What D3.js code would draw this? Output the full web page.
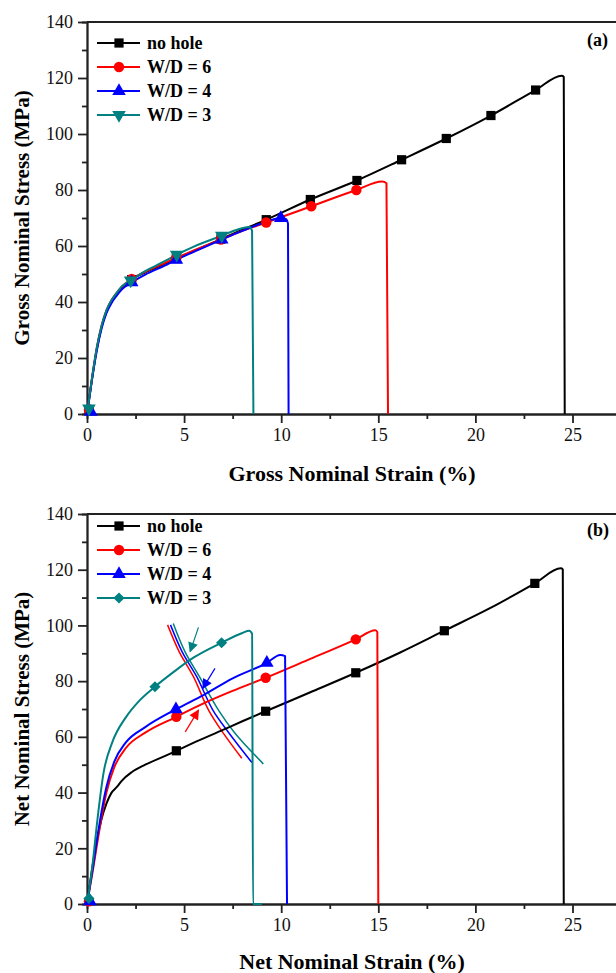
<!DOCTYPE html>
<html>
<head>
<meta charset="utf-8">
<script src="https://cdn.jsdelivr.net/npm/d3@7"></script>
<style>
  body { margin: 0; background: #fff; }
  svg { display: block; font-family: "Liberation Serif", "Times New Roman", serif; }
</style>
</head>
<body>
<div class="d3"></div>
<script>
// series
const seriesNames = ['no hole', 'W/D = 6', 'W/D = 4', 'W/D = 3'];
const seriesColors = ['#000000', '#ff0000', '#0000ff', '#008080'];

// ticks (axis runs on past 25, out of the picture)
const strainTicks = [0, 5, 10, 15, 20, 25];
const strainMinorTicks = [2.5, 7.5, 12.5, 17.5, 22.5];
const stressTicks = [0, 20, 40, 60, 80, 100, 120, 140];
const stressMinorTicks = [10, 30, 50, 70, 90, 110, 130];

// (a) gross nominal stress-strain, [strain %, stress MPa]
const grossNoHole = [[0,0],[0.25,12],[0.5,23],[0.75,31],[1,36.5],[1.25,40],[1.5,42.6],[1.8,45],[2.3,48],[3,50.6],[4,53.6],[4.6,55.5],[5.5,58.2],[7,62.8],[8,65.8],[9.23,69.4],[11.5,76.6],[13.9,83.4],[16.2,90.8],[18.5,98.4],[20.8,106.6],[23.1,115.7],[24.45,120.8],[24.55,120.4],[24.6,0]];
const grossW6 = [[0,0],[0.25,12.5],[0.5,23.5],[0.75,31.5],[1,37],[1.25,40.5],[1.5,43],[1.8,45.5],[2.3,48.2],[3,50.8],[4,53.9],[4.6,55.8],[5.5,58.4],[6.9,62.3],[8,65.4],[9.23,68.4],[11.55,74.2],[13.87,80],[15.2,83],[15.42,82.4],[15.5,0]];
const grossW4 = [[0,0],[0.25,12],[0.5,22.5],[0.75,30.5],[1,36],[1.25,39.5],[1.5,42],[1.8,44.5],[2.3,47],[3,49.8],[4,53],[4.6,55.1],[5.5,57.9],[6.94,62.3],[8,65.4],[9.2,68.6],[9.98,70],[10.25,69.6],[10.35,68],[10.38,0]];
const grossW3 = [[0,0],[0.25,12.5],[0.5,23.5],[0.75,31.5],[1,37],[1.25,40.5],[1.5,43],[1.8,45.6],[2.25,47.7],[3,51],[4,54.6],[4.62,56.9],[5.5,59.8],[6.94,63.7],[7.8,66],[8.35,66.8],[8.5,65.5],[8.57,0]];

const grossNoHoleMarks = [[0.1,1.5],[2.3,48],[4.6,55.5],[6.9,62.5],[9.23,69.4],[11.5,76.6],[13.9,83.4],[16.2,90.8],[18.5,98.4],[20.8,106.6],[23.1,115.7]];
const grossW6Marks = [[0.1,1.5],[2.3,48.2],[4.6,55.8],[6.9,62.3],[9.23,68.4],[11.55,74.2],[13.87,80]];
const grossW4Marks = [[0.2,0.8],[2.3,47],[4.6,55.1],[6.94,62.3],[9.98,70]];
const grossW3Marks = [[0.1,2],[2.25,47.7],[4.62,56.9],[6.94,63.7]];

// (b) net nominal stress-strain
const netNoHole = [[0,0],[0.25,12],[0.5,22.5],[0.75,30.5],[1,36],[1.25,39.8],[1.55,42.1],[1.8,44.3],[2.3,47.3],[3,50],[4,53.1],[4.6,55],[5.5,57.9],[7,62.5],[8,65.6],[9.2,69.2],[11.5,76],[13.84,83],[16.1,90.2],[18.4,98.1],[20.7,106],[23.06,115.1],[24.4,120.5],[24.5,120.1],[24.55,0]];
const netW6 = [[0,0],[0.3,12],[0.6,25],[1,40],[1.4,49],[2,56],[3,61.5],[4.6,67.2],[6,72],[7.5,76.5],[9.2,81.2],[11.5,88],[13.84,95],[14.85,98.3],[14.95,97.6],[15,0]];
const netW4 = [[0,0],[0.3,13],[0.6,27],[1,42],[1.4,51],[2,58],[3,63.5],[4.58,69.9],[6,75],[7.5,81],[9.26,86.6],[9.95,89.4],[10.2,89],[10.3,0]];
const netW3 = [[0,0],[0.3,15],[0.5,28],[0.85,47],[1.3,58],[2,67],[2.7,73],[3.5,78],[4.5,83.5],[5.5,88.5],[6.93,93.8],[8,97.3],[8.35,98.1],[8.5,97],[8.55,0],[9,0]];

const netNoHoleMarks = [[4.6,55],[9.2,69.2],[13.84,83],[18.4,98.1],[23.06,115.1]];
const netW6Marks = [[0.1,1],[4.6,67.2],[9.2,81.2],[13.84,95]];
const netW4Marks = [[0.15,1],[4.58,69.9],[9.26,86.6]];
const netW3Marks = [[0.1,2],[3.5,78],[6.93,93.8]];

// (b) annotation curves and arrows
const guideW6 = [[4.15,100.2],[4.75,90.5],[5.48,81.6],[6.26,69.6],[7,61.5],[7.97,52.3]];
const guideW4 = [[4.3,100.2],[4.9,90.5],[5.65,81.6],[6.48,69.6],[7.3,61.5],[8.49,50.8]];
const guideW3 = [[4.44,100.7],[5.05,90.5],[5.79,81.6],[6.77,69.6],[7.6,61.5],[9.08,50.3]];
const arrowW6 = [[5.06,61.8],[5.74,69.6]];
const arrowW4 = [[6.59,84.6],[5.96,77.4]];
const arrowW3 = [[5.74,99.3],[5.31,90.6]];

const width = 616;
const height = 973;

const svg = d3.select('.d3').append('svg')
  .attr('width', width)
  .attr('height', height);

const defs = svg.append('defs');
seriesColors.forEach((c, i) => {
  defs.append('marker')
    .attr('id', 'arrow' + i)
    .attr('viewBox', '0 0 10 10')
    .attr('refX', 9).attr('refY', 5)
    .attr('markerWidth', 11).attr('markerHeight', 10)
    .attr('markerUnits', 'userSpaceOnUse')
    .attr('orient', 'auto')
    .append('path')
    .attr('d', 'M0,0L10,5L0,10Z')
    .attr('fill', c);
});

const shapes = {
  square: { type: d3.symbolSquare, size: 85, rotate: 0 },
  circle: { type: d3.symbolCircle, size: 85, rotate: 0 },
  up: { type: d3.symbolTriangle, size: 80, rotate: 0 },
  down: { type: d3.symbolTriangle, size: 80, rotate: 180 },
  diamond: { type: d3.symbolSquare, size: 62, rotate: 45 }
};

const panels = [
  {
    top: 22, bottom: 414, label: '(a)', labelY: 46,
    xTitle: 'Gross Nominal Strain (%)', yTitle: 'Gross Nominal Stress (MPa)', xTitleY: 481,
    curves: [grossNoHole, grossW6, grossW4, grossW3],
    marks: [grossNoHoleMarks, grossW6Marks, grossW4Marks, grossW3Marks],
    shapes: ['square', 'circle', 'up', 'down'],
    legendY: 43
  },
  {
    top: 514, bottom: 904, label: '(b)', labelY: 536,
    xTitle: 'Net Nominal Strain (%)', yTitle: 'Net Nominal Stress (MPa)', xTitleY: 969,
    curves: [netNoHole, netW6, netW4, netW3],
    marks: [netNoHoleMarks, netW6Marks, netW4Marks, netW3Marks],
    shapes: ['square', 'circle', 'up', 'diamond'],
    legendY: 526,
    guides: [null, guideW6, guideW4, guideW3],
    arrows: [null, arrowW6, arrowW4, arrowW3]
  }
];

function symbolPath(name) {
  const s = shapes[name];
  return d3.symbol().type(s.type).size(s.size)();
}

panels.forEach(p => {
  const x = d3.scaleLinear().domain([0, 30]).range([87, 87 + 30 * 19.42]);
  const y = d3.scaleLinear().domain([0, 140]).range([p.bottom, p.top]);
  const g = svg.append('g');

  // minor ticks
  g.append('g')
    .attr('transform', `translate(0,${p.bottom})`)
    .call(d3.axisBottom(x).tickValues(strainMinorTicks).tickSize(5).tickFormat(''));
  g.append('g')
    .attr('transform', 'translate(87,0)')
    .call(d3.axisLeft(y).tickValues(stressMinorTicks).tickSize(5).tickFormat(''));

  // major axes
  const xAxis = g.append('g')
    .attr('transform', `translate(0,${p.bottom})`)
    .call(d3.axisBottom(x).tickValues(strainTicks).tickSize(9).tickSizeOuter(0).tickPadding(5));
  const yAxis = g.append('g')
    .attr('transform', 'translate(87,0)')
    .call(d3.axisLeft(y).tickValues(stressTicks).tickSize(9).tickSizeOuter(0).tickPadding(5));

  g.selectAll('.domain, .tick line').attr('stroke', '#222').attr('stroke-width', 1.8);
  [xAxis, yAxis].forEach(a => a.selectAll('text')
    .attr('font-family', '"Liberation Serif", serif')
    .attr('font-size', 18)
    .attr('fill', '#111'));

  // top frame
  g.append('line')
    .attr('x1', x(0)).attr('x2', x(30))
    .attr('y1', y(140)).attr('y2', y(140))
    .attr('stroke', '#222').attr('stroke-width', 1.8);

  const line = d3.line()
    .x(d => x(d[0]))
    .y(d => y(d[1]))
    .curve(d3.curveMonotoneX);

  const guideLine = d3.line()
    .x(d => x(d[0]))
    .y(d => y(d[1]))
    .curve(d3.curveCatmullRom);

  // annotation curves
  if (p.guides) {
    p.guides.forEach((gd, i) => {
      if (!gd) return;
      g.append('path')
        .attr('d', guideLine(gd))
        .attr('fill', 'none')
        .attr('stroke', seriesColors[i])
        .attr('stroke-width', 1.5);
    });
    p.arrows.forEach((ar, i) => {
      if (!ar) return;
      g.append('line')
        .attr('x1', x(ar[0][0])).attr('y1', y(ar[0][1]))
        .attr('x2', x(ar[1][0])).attr('y2', y(ar[1][1]))
        .attr('stroke', seriesColors[i])
        .attr('stroke-width', 1.2)
        .attr('marker-end', `url(#arrow${i})`);
    });
  }

  // data curves
  p.curves.forEach((c, i) => {
    g.append('path')
      .attr('d', line(c))
      .attr('fill', 'none')
      .attr('stroke', seriesColors[i])
      .attr('stroke-width', 2)
      .attr('stroke-linejoin', 'round');
  });

  p.marks.forEach((m, i) => {
    const s = shapes[p.shapes[i]];
    g.selectAll(null)
      .data(m)
      .enter()
      .append('path')
      .attr('d', symbolPath(p.shapes[i]))
      .attr('transform', d => `translate(${x(d[0])},${y(d[1])}) rotate(${s.rotate})`)
      .attr('fill', seriesColors[i]);
  });

  // legend
  seriesNames.forEach((name, i) => {
    const ly = p.legendY + i * 24;
    const s = shapes[p.shapes[i]];
    g.append('line')
      .attr('x1', 97).attr('x2', 140)
      .attr('y1', ly).attr('y2', ly)
      .attr('stroke', seriesColors[i])
      .attr('stroke-width', 2);
    g.append('path')
      .attr('d', symbolPath(p.shapes[i]))
      .attr('transform', `translate(119,${ly}) rotate(${s.rotate})`)
      .attr('fill', seriesColors[i]);
    g.append('text')
      .attr('x', 147).attr('y', ly)
      .attr('dy', '0.35em')
      .attr('font-size', 18)
      .attr('font-weight', 'bold')
      .text(name);
  });

  // panel label
  g.append('text')
    .attr('x', 587).attr('y', p.labelY)
    .attr('font-size', 18)
    .attr('font-weight', 'bold')
    .text(p.label);

  // axis titles
  g.append('text')
    .attr('x', 352).attr('y', p.xTitleY)
    .attr('text-anchor', 'middle')
    .attr('font-size', 22)
    .attr('font-weight', 'bold')
    .text(p.xTitle);
  g.append('text')
    .attr('transform', `translate(29,${(p.top + p.bottom) / 2}) rotate(-90)`)
    .attr('text-anchor', 'middle')
    .attr('font-size', 21)
    .attr('font-weight', 'bold')
    .text(p.yTitle);
});
</script>
</body>
</html>
